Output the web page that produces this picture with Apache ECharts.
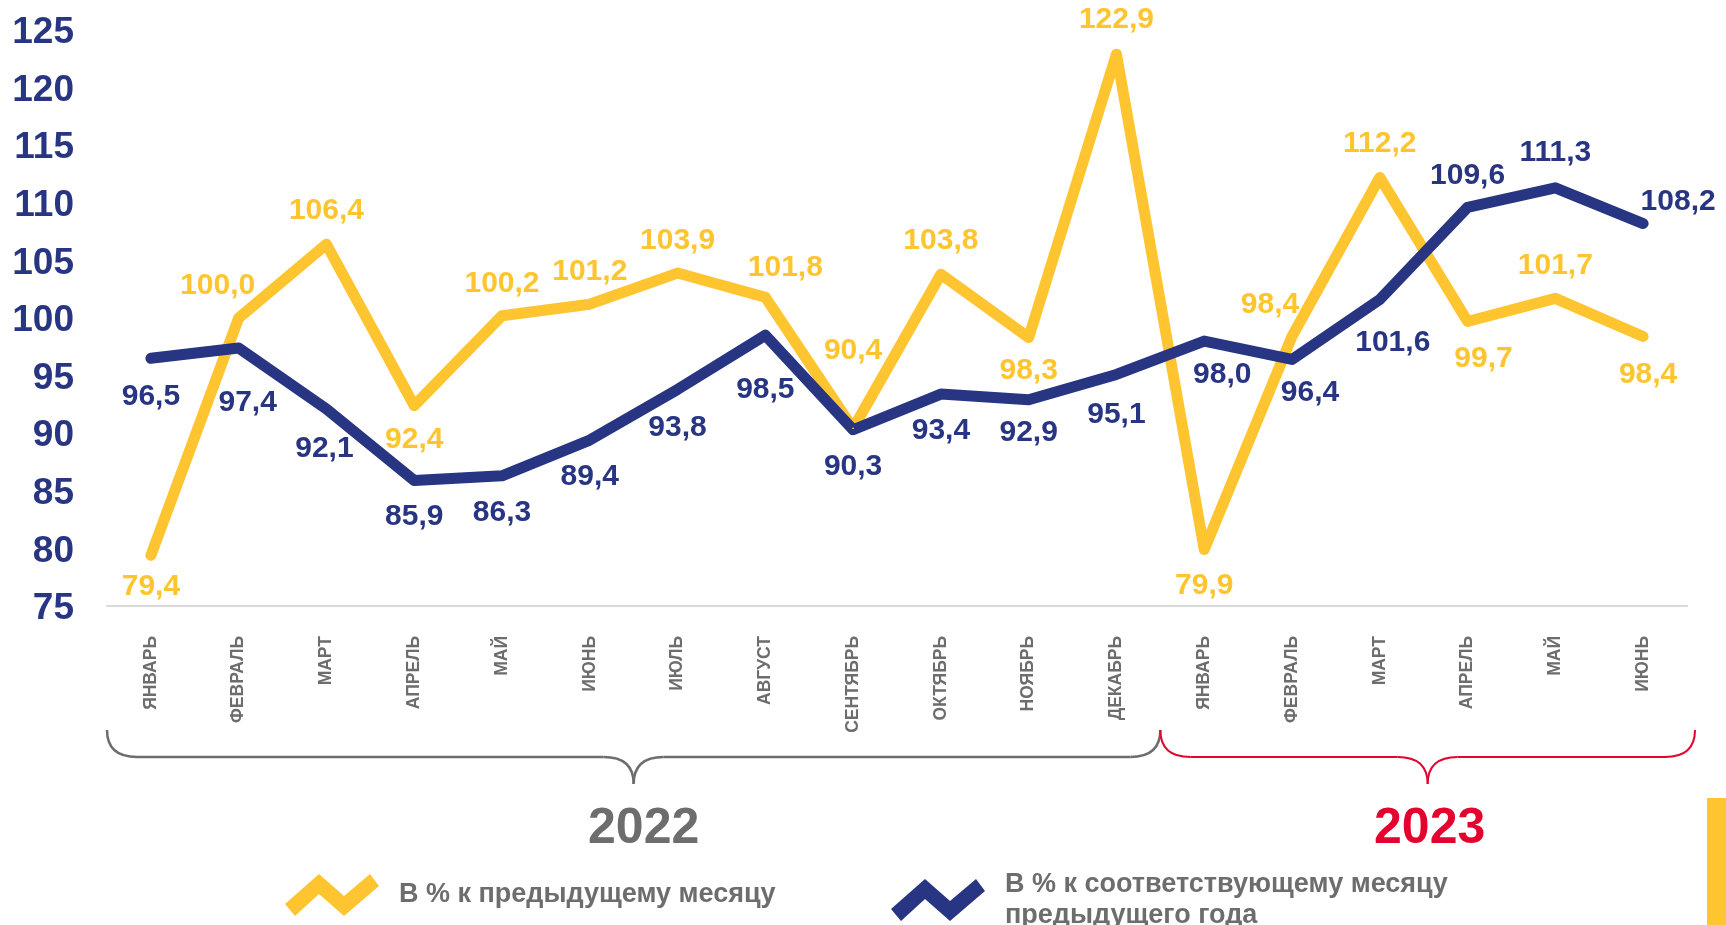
<!DOCTYPE html>
<html>
<head>
<meta charset="utf-8">
<script src="https://cdn.jsdelivr.net/npm/echarts@6/dist/echarts.min.js"></script>
<style>
  html, body { margin: 0; padding: 0; background: #fff; }
  #Grf { width: 1726px; height: 925px; }
</style>
</head>
<body>
<div id="Grf"></div>
<script>
// datos
const meses = ['ЯНВАРЬ', 'ФЕВРАЛЬ', 'МАРТ', 'АПРЕЛЬ', 'МАЙ', 'ИЮНЬ', 'ИЮЛЬ', 'АВГУСТ', 'СЕНТЯБРЬ',
  'ОКТЯБРЬ', 'НОЯБРЬ', 'ДЕКАБРЬ', 'ЯНВАРЬ', 'ФЕВРАЛЬ', 'МАРТ', 'АПРЕЛЬ', 'МАЙ', 'ИЮНЬ'];
const mesAnterior = [79.4, 100.0, 106.4, 92.4, 100.2, 101.2, 103.9, 101.8, 90.4, 103.8, 98.3, 122.9,
  79.9, 98.4, 112.2, 99.7, 101.7, 98.4];
const anoAnterior = [96.5, 97.4, 92.1, 85.9, 86.3, 89.4, 93.8, 98.5, 90.3, 93.4, 92.9, 95.1,
  98.0, 96.4, 101.6, 109.6, 111.3, 108.2];
const nombres = ['В % к предыдущему месяцу', 'В % к соответствующему месяцу\nпредыдущего года'];
const anos = ['2022', '2023'];
const yMin = 75, yMax = 125, yPaso = 5;

// desplazamiento de las etiquetas respecto al punto
const offAmarillo = [[0, 31], [-21, -32], [0, -34], [0, 34], [0, -32], [0, -32], [0, -32], [20, -30], [0, -78],
  [0, -33], [0, 33], [0, -34], [0, 36], [-22, -32], [0, -34], [16, 37], [0, -33], [5, 38]];
const offAzul = [[0, 38], [9, 55], [-2, 40], [0, 36], [0, 37], [0, 37], [0, 38], [0, 54], [0, 37],
  [0, 37], [0, 33], [0, 40], [18, 34], [18, 33], [13, 43], [0, -32], [0, -35], [35, -22]];

const FONT = '"Liberation Sans", Arial, sans-serif';
const AMARILLO = '#FFC530';
const AZUL = '#283583';
const GRIS = '#6D6D6D';
const ROJO = '#E4032E';
const ZIGZAG = 'path://M13,55 L47,25 L72,47 L98,25 L107,37 L72,67 L47,45 L23,67 Z';

const fmt = v => v.toFixed(1).replace('.', ',');

const serie = (name, valores, offsets, color) => ({
  name,
  type: 'line',
  data: valores.map((v, i) => ({ value: v, label: { offset: offsets[i] } })),
  symbol: 'circle',
  symbolSize: 2,
  itemStyle: { color },
  lineStyle: { color, width: 11, cap: 'round', join: 'round' },
  label: {
    show: true, position: 'inside', color,
    fontFamily: FONT, fontWeight: 'bold', fontSize: 30,
    formatter: p => fmt(p.value)
  },
  emphasis: { disabled: true }
});

const leyenda = (name, left, top, color) => ({
  data: [name],
  left, top,
  icon: ZIGZAG,
  itemWidth: 124, itemHeight: 42,
  itemStyle: { color, borderWidth: 0 },
  selectedMode: false,
  textStyle: { color: GRIS, fontFamily: FONT, fontWeight: 'bold', fontSize: 27, lineHeight: 31 }
});

// llave: curvas cuadráticas + tramos rectos
const llave = (x0, x1, color, width) => {
  const y0 = 730, y1 = 757, y2 = 784, r = 30, xc = (x0 + x1) / 2;
  const st = { fill: null, stroke: color, lineWidth: width };
  const curva = (a, b, c, d, e, f) => ({ type: 'bezierCurve', shape: { x1: a, y1: b, cpx1: c, cpy1: d, x2: e, y2: f }, style: st });
  const recta = (a, b) => ({ type: 'line', shape: { x1: a, y1: y1, x2: b, y2: y1 }, style: st });
  return [
    curva(x0, y0, x0, y1, x0 + r, y1),
    recta(x0 + r, xc - r),
    curva(xc - r, y1, xc, y1, xc, y2),
    curva(xc, y2, xc, y1, xc + r, y1),
    recta(xc + r, x1 - r),
    curva(x1 - r, y1, x1, y1, x1, y0)
  ];
};

const texto = (t, x, color) => ({
  type: 'text', x, y: 829,
  style: { text: t, align: 'center', verticalAlign: 'middle', fill: color,
    fontFamily: FONT, fontWeight: 'bold', fontSize: 50 }
});

const grafica = echarts.init(document.querySelector('#Grf'));
grafica.setOption({
  animation: false,
  grid: { left: 107, right: 39, top: 30, bottom: 319 },
  legend: [leyenda(nombres[0], 280, 869, AMARILLO), leyenda(nombres[1], 886, 864, AZUL)],
  xAxis: {
    type: 'category',
    data: meses,
    axisLine: { lineStyle: { color: '#D9D9D9', width: 2 } },
    axisTick: { show: false },
    axisLabel: {
      interval: 0, rotate: 90, margin: 30,
      color: GRIS, fontFamily: FONT, fontWeight: 'bold', fontSize: 17.5
    }
  },
  yAxis: {
    type: 'value',
    min: yMin, max: yMax, interval: yPaso,
    splitLine: { show: false },
    axisLine: { show: false },
    axisTick: { show: false },
    axisLabel: {
      margin: 33,
      formatter: v => '{n|' + v + '}',
      rich: { n: { padding: [6, 0, 0, 0], color: AZUL, fontFamily: FONT, fontWeight: 'bold', fontSize: 37 } }
    }
  },
  series: [
    serie(nombres[0], mesAnterior, offAmarillo, AMARILLO),
    serie(nombres[1], anoAnterior, offAzul, AZUL)
  ]
});

// llaves de los años, alineadas con las categorías
const c0 = grafica.convertToPixel({ xAxisIndex: 0 }, 0);
const banda = grafica.convertToPixel({ xAxisIndex: 0 }, 1) - c0;
const xIni = c0 - banda / 2;
const xCorte = grafica.convertToPixel({ xAxisIndex: 0 }, 11) + banda / 2;
const xFin = grafica.convertToPixel({ xAxisIndex: 0 }, meses.length - 1) + banda / 2 + 8;

grafica.setOption({
  graphic: [
    ...llave(xIni, xCorte, GRIS, 2.5),
    ...llave(xCorte, xFin, ROJO, 2),
    texto(anos[0], (xIni + xCorte) / 2 + 10, GRIS),
    texto(anos[1], (xCorte + xFin) / 2 + 2, ROJO),
    { type: 'rect', shape: { x: 1707, y: 798, width: 19, height: 127 }, style: { fill: AMARILLO } }
  ]
});
</script>
</body>
</html>
